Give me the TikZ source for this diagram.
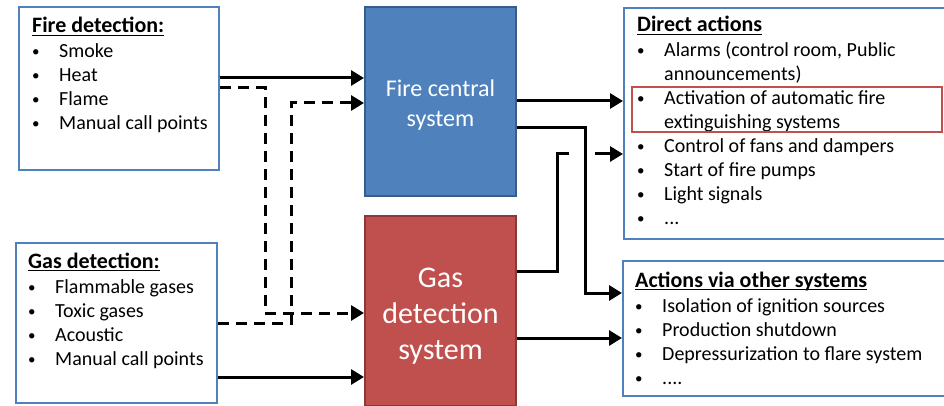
\documentclass[tikz,border=0pt]{standalone}
\usepackage{fontspec}
\setmainfont{Carlito}
\usetikzlibrary{arrows.meta}
\definecolor{listblue}{HTML}{4F81BD}
\definecolor{fireblue}{HTML}{4F81BD}
\definecolor{fireedge}{HTML}{385D8A}
\definecolor{gasred}{HTML}{C0504D}
\definecolor{gasedge}{HTML}{8C3836}
\newcommand{\bl}{\makebox[27pt][l]{\raisebox{1pt}{\scalebox{0.75}{\textbullet}}}}
\newcommand{\nobl}{\makebox[27pt][l]{}}
\newcommand{\ttl}[1]{\leavevmode\setbox0\hbox{\fontsize{22}{24}\selectfont\textbf{#1}}%
  \rlap{\rule[-3pt]{\wd0}{1.4pt}}\box0\\[1pt]}
\newcommand{\lst}[1]{\parbox[t]{300pt}{\raggedright #1}}

\begin{document}
\begin{tikzpicture}[
  x=1pt, y=-1pt,
  every node/.style={font=\fontsize{20}{24}\selectfont},
  listbox/.style={draw=listblue, line width=2pt, fill=white, inner sep=0pt},
  listtext/.style={anchor=base west, inner sep=0pt},
  sysbox/.style={line width=2pt, inner sep=0pt, text=white, align=center},
  conn/.style={line width=3pt, -{Triangle[length=13pt,width=15pt]}},
  dconn/.style={conn, dash pattern=on 11pt off 7pt},
]
  \clip (0,0) rectangle (944,406);

  % inputs
  \node[listbox, minimum width=200pt, minimum height=163pt] (firedet) at (119,88.5) {};
  \node[listtext] (firedettxt) at (32,33)
    {\lst{\ttl{Fire detection:} \bl Smoke\\ \bl Heat\\ \bl Flame\\ \bl Manual call points}};
  \node[listbox, minimum width=201pt, minimum height=160pt] (gasdet) at (116.5,323) {};
  \node[listtext] (gasdettxt) at (28,268)
    {\lst{\ttl{Gas detection:} \bl Flammable gases\\ \bl Toxic gases\\ \bl Acoustic\\ \bl Manual call points}};

  % central systems
  \node[sysbox, draw=fireedge, fill=fireblue, minimum width=151pt, minimum height=189pt,
        font=\fontsize{24}{30}\selectfont] (firecen) at (440.5,101.5) {\rule{0pt}{24pt}Fire central\\system};
  \node[sysbox, draw=gasedge, fill=gasred, minimum width=151pt, minimum height=190pt,
        font=\fontsize{30}{36}\selectfont] (gassys) at (440.5,311) {\rule{0pt}{29pt}Gas\\detection\\system};

  % outputs
  \node[listbox, minimum width=336pt, minimum height=231pt] (direct) at (792,123.5) {};
  \node[listtext] (directtxt) at (637,32)
    {\lst{\ttl{Direct actions} \bl Alarms (control room, Public\\ \nobl announcements)\\
     \bl Activation of automatic fire\\ \nobl extinguishing systems\\ \bl Control of fans and dampers\\
     \bl Start of fire pumps\\ \bl Light signals\\ \bl ...}};
  \node[draw=gasred, line width=2pt, minimum width=310pt, minimum height=45pt] (highlight) at (787,109.5) {};
  \node[listbox, minimum width=337pt, minimum height=135pt] (other) at (791.5,328.5) {};
  \node[listtext] (othertxt) at (635,287)
    {\lst{\ttl{Actions via other systems} \bl Isolation of ignition sources\\ \bl Production shutdown\\
     \bl Depressurization to flare system\\ \bl ....}};

  % connectors, left side
  \draw[conn] (firedet.east |- 0,78) -- (firecen.west |- 0,78);
  \draw[dconn] (firedet.east |- 0,88) -- ++(45,0) |- (gassys.west |- 0,313);
  \draw[dconn] (gasdet.east |- 0,323) -- ++(73,0) |- (firecen.west |- 0,103);
  \draw[conn] (gasdet.east |- 0,377) -- (gassys.west |- 0,377);

  % connectors, right side
  \draw[conn] (firecen.east |- 0,101) -- (direct.west |- 0,101);
  \draw[conn] (firecen.east |- 0,128) -- ++(68,0) |- (other.west |- 0,293);
  \coordinate (jumpa) at (569,154);
  \coordinate (jumpb) at (595,154);
  \draw[line width=3pt] (gassys.east |- 0,271) -- ++(40,0) |- (jumpa);
  \draw[conn] (jumpb) -- (direct.west |- jumpb);
  \draw[conn] (gassys.east |- 0,338) -- (other.west |- 0,338);
\end{tikzpicture}
\end{document}
